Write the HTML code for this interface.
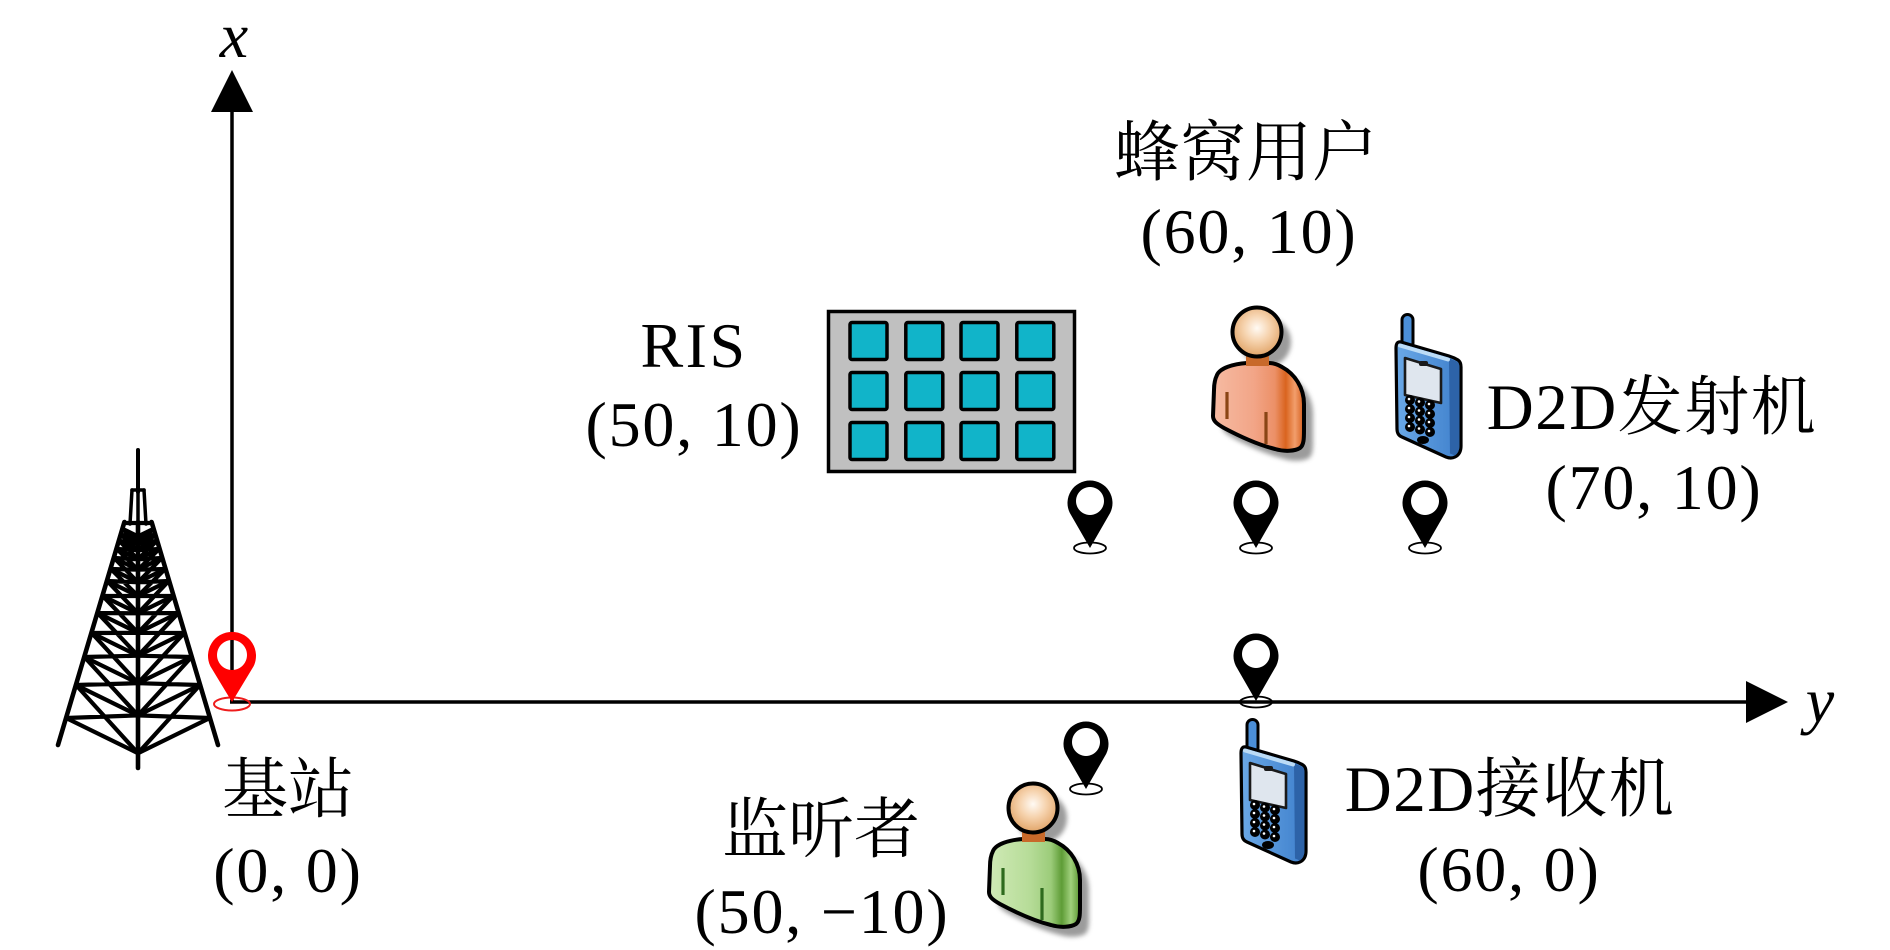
<!DOCTYPE html>
<html>
<head>
<meta charset="utf-8">
<style>
  html,body{margin:0;padding:0;background:#fff;}
  svg{display:block;}
  .num{font-family:"Liberation Serif","Noto Serif CJK SC",serif;font-size:64px;letter-spacing:1.8px;text-anchor:middle;fill:#000;}
  .cjk{font-family:"Liberation Serif","Noto Serif CJK SC",serif;font-size:66px;text-anchor:middle;fill:#000;}
  .mix{font-family:"Liberation Serif","Noto Serif CJK SC",serif;font-size:65px;letter-spacing:1.5px;text-anchor:middle;fill:#000;}
  .ital{font-family:"Liberation Serif",serif;font-style:italic;font-size:64px;text-anchor:middle;fill:#000;}
</style>
</head>
<body>
<svg width="1890" height="950" viewBox="0 0 1890 950" xmlns="http://www.w3.org/2000/svg">
  <defs>
    <filter id="blur" x="-30%" y="-30%" width="160%" height="160%"><feGaussianBlur stdDeviation="2.5"/></filter>
    <radialGradient id="head" cx="0.5" cy="0.42" r="0.6">
      <stop offset="0" stop-color="#fffaf4"/>
      <stop offset="0.45" stop-color="#f6d3ae"/>
      <stop offset="1" stop-color="#dfa062"/>
    </radialGradient>
    <linearGradient id="orangeBody" gradientUnits="userSpaceOnUse" x1="-44" y1="0" x2="47" y2="0">
      <stop offset="0" stop-color="#f6bba3"/>
      <stop offset="0.45" stop-color="#f2a587"/>
      <stop offset="0.68" stop-color="#ec9067"/>
      <stop offset="0.8" stop-color="#d9641f"/>
      <stop offset="0.9" stop-color="#f29e6c"/>
      <stop offset="1" stop-color="#d45c1a"/>
    </linearGradient>
    <linearGradient id="greenBody" gradientUnits="userSpaceOnUse" x1="-44" y1="0" x2="47" y2="0">
      <stop offset="0" stop-color="#d0eab6"/>
      <stop offset="0.45" stop-color="#b6dc98"/>
      <stop offset="0.68" stop-color="#9ccc7a"/>
      <stop offset="0.8" stop-color="#5e9c36"/>
      <stop offset="0.9" stop-color="#a0d07c"/>
      <stop offset="1" stop-color="#5a9630"/>
    </linearGradient>
    <linearGradient id="phoneFront" x1="0" y1="0" x2="1" y2="0">
      <stop offset="0" stop-color="#6aa8e6"/>
      <stop offset="1" stop-color="#3f80cc"/>
    </linearGradient>
    <path id="body" d="M -10,31 C -24,32 -37,36 -40,43 C -42,47 -43,52 -43,58 L -44,84 C -44,89 -40,92 -33,96 C -18,104 2,113 18,117 C 28,120 38,119 43,116 C 47,113 47,106 47,98 L 47,72 C 47,56 38,42 25,35 C 20,32 16,31 12,31 Z"/>
    <path id="pinB" fill-rule="evenodd" d="M -20.2,10.9 A 22.5 22.5 0 1 1 20.2,10.9 L 0,46 Z M 0,-15 A 14 14 0 1 0 0.01,-15 Z"/>
    <g id="phone">
      <rect x="10" y="1.5" width="11" height="34" rx="5.5" fill="#4b8fd8" stroke="#000" stroke-width="3"/>
      <path d="M 9,29 L 57,43 Q 62,44.5 66,47 Q 69,49 69,54 L 69,133 Q 69,141 63,144 Q 59,146 54,144 L 10,124 Q 5,122 5,116 L 4,35 Q 4,28 9,29 Z" fill="url(#phoneFront)" stroke="#000" stroke-width="3.2" stroke-linejoin="round"/>
      <path d="M 57,45.5 Q 62,47 65.5,49 Q 67.5,51 67.5,55 L 67.5,132 Q 67.5,139 63,142.5 L 58,140.5 Z" fill="#2d63a8"/>
      <path d="M 8,32.5 L 56,46.5" stroke="#bcdcf6" stroke-width="4" stroke-linecap="round"/>
      <path d="M 13,45 L 49,56 L 49,90 L 13,82 Z" fill="#dfe6ee" stroke="#1a1a1a" stroke-width="2.6" stroke-linejoin="round"/>
      <rect x="27" y="48" width="9" height="5" rx="2" fill="#1a1a1a"/>
      <g fill="#000">
        <circle cx="18" cy="87" r="5"/><circle cx="28" cy="89.5" r="5"/><circle cx="38" cy="92" r="5"/>
        <circle cx="18" cy="96" r="5"/><circle cx="28" cy="98.5" r="5"/><circle cx="38" cy="101" r="5"/>
        <circle cx="18" cy="105" r="5"/><circle cx="28" cy="107.5" r="5"/><circle cx="38" cy="110" r="5"/>
        <circle cx="18" cy="114" r="5"/><circle cx="28" cy="116.5" r="5"/><circle cx="38" cy="119" r="5"/>
        <ellipse cx="31" cy="127" rx="6" ry="4"/>
      </g>
      <g fill="#fff">
        <circle cx="17" cy="86" r="1.3"/><circle cx="27" cy="88.5" r="1.3"/><circle cx="37" cy="91" r="1.3"/>
        <circle cx="17" cy="95" r="1.3"/><circle cx="27" cy="97.5" r="1.3"/><circle cx="37" cy="100" r="1.3"/>
        <circle cx="17" cy="104" r="1.3"/><circle cx="27" cy="106.5" r="1.3"/><circle cx="37" cy="109" r="1.3"/>
        <circle cx="17" cy="113" r="1.3"/><circle cx="27" cy="115.5" r="1.3"/><circle cx="37" cy="118" r="1.3"/>
      </g>
    </g>
  </defs>

  <rect width="1890" height="950" fill="#fff"/>

  <!-- Axes -->
  <line x1="232" y1="702" x2="232" y2="108" stroke="#000" stroke-width="3.5"/>
  <polygon points="232,70 211,112 253,112" fill="#000"/>
  <line x1="230" y1="702" x2="1752" y2="702" stroke="#000" stroke-width="3.5"/>
  <polygon points="1788,702 1746,681 1746,723" fill="#000"/>
  <text class="ital" x="234" y="57">x</text>
  <text class="ital" x="1820" y="722">y</text>

  <!-- Tower -->
  <g stroke="#000" stroke-width="4.2" stroke-linecap="round" stroke-linejoin="round" fill="none">
    <line x1="138" y1="450" x2="138" y2="492" stroke-width="4"/>
    <line x1="132" y1="490" x2="130" y2="524" stroke-width="3.5"/>
    <line x1="144" y1="490" x2="146" y2="524" stroke-width="3.5"/>
    <line x1="138" y1="490" x2="138" y2="524" stroke-width="3.5"/>
    <line x1="132" y1="490" x2="144" y2="490" stroke-width="3.5"/>
    <line x1="124.4" y1="522" x2="58" y2="745" stroke-width="4.6"/>
    <line x1="151.6" y1="522" x2="218" y2="745" stroke-width="4.6"/>
    <line x1="124.4" y1="523" x2="151.6" y2="523"/>
    <line x1="138" y1="522" x2="138" y2="768" stroke-width="4.6"/>
    <polyline points="66.1,718 138,753.2 209.9,718"/>
    <polyline points="76,685 138,715.4 200,685"/>
    <polyline points="84.4,657 138,683.2 191.6,657"/>
    <polyline points="91.7,633 138,655.7 184.3,633"/>
    <polyline points="97.7,613 138,632.8 178.3,613"/>
    <polyline points="102.8,596 138,613.3 173.2,596"/>
    <polyline points="107.3,581 138,596 168.7,581"/>
    <polyline points="110.9,569 138,582.3 165.1,569"/>
    <polyline points="114.2,558 138,569.7 161.8,558"/>
    <polyline points="116.9,549 138,559.3 159.1,549"/>
    <polyline points="119.3,541 138,550.2 156.7,541"/>
    <polyline points="121.1,535 138,543.3 154.9,535"/>
    <polyline points="122.9,529 138,536.4 153.1,529"/>
    <path d="M76,685 L138,753.2 M138,715.4 L66.1,718 M200,685 L138,753.2 M138,715.4 L209.9,718
             M84.4,657 L138,715.4 M138,683.2 L76,685 M191.6,657 L138,715.4 M138,683.2 L200,685
             M91.7,633 L138,683.2 M138,655.7 L84.4,657 M184.3,633 L138,683.2 M138,655.7 L191.6,657
             M97.7,613 L138,655.7 M138,632.8 L91.7,633 M178.3,613 L138,655.7 M138,632.8 L184.3,633
             M102.8,596 L138,632.8 M138,613.3 L97.7,613 M173.2,596 L138,632.8 M138,613.3 L178.3,613
             M107.3,581 L138,613.3 M138,596 L102.8,596 M168.7,581 L138,613.3 M138,596 L173.2,596
             M110.9,569 L138,596 M138,582.3 L107.3,581 M165.1,569 L138,596 M138,582.3 L168.7,581
             M114.2,558 L138,582.3 M138,569.7 L110.9,569 M161.8,558 L138,582.3 M138,569.7 L165.1,569
             M116.9,549 L138,569.7 M138,559.3 L114.2,558 M159.1,549 L138,569.7 M138,559.3 L161.8,558
             M119.3,541 L138,559.3 M138,550.2 L116.9,549 M156.7,541 L138,559.3 M138,550.2 L159.1,549
             M121.1,535 L138,550.2 M138,543.3 L119.3,541 M154.9,535 L138,550.2 M138,543.3 L156.7,541
             M122.9,529 L138,543.3 M138,536.4 L121.1,535 M153.1,529 L138,543.3 M138,536.4 L154.9,535"/>
  </g>

  <!-- Red origin pin -->
  <ellipse cx="232" cy="704" rx="18" ry="6.5" fill="none" stroke="#ee1c1c" stroke-width="2"/>
  <path fill="#ff0000" fill-rule="evenodd" d="M 210.4,666.3 A 24 24 0 1 1 253.6,666.3 L 232,702 Z M 232,640 A 15 15 0 1 0 232.01,640 Z"/>

  <!-- RIS -->
  <rect x="828.5" y="311.5" width="246" height="160" fill="#c0c0c0" stroke="#000" stroke-width="3.5"/>
  <g fill="#11b4c9" stroke="#000" stroke-width="3.5">
    <rect x="850" y="322.5" width="37" height="37" rx="2"/>
    <rect x="905.8" y="322.5" width="37" height="37" rx="2"/>
    <rect x="961" y="322.5" width="37" height="37" rx="2"/>
    <rect x="1016.8" y="322.5" width="37" height="37" rx="2"/>
    <rect x="850" y="372.5" width="37" height="37" rx="2"/>
    <rect x="905.8" y="372.5" width="37" height="37" rx="2"/>
    <rect x="961" y="372.5" width="37" height="37" rx="2"/>
    <rect x="1016.8" y="372.5" width="37" height="37" rx="2"/>
    <rect x="850" y="422.5" width="37" height="37" rx="2"/>
    <rect x="905.8" y="422.5" width="37" height="37" rx="2"/>
    <rect x="961" y="422.5" width="37" height="37" rx="2"/>
    <rect x="1016.8" y="422.5" width="37" height="37" rx="2"/>
  </g>

  <!-- Black pins -->
  <g>
    <ellipse cx="1090" cy="548" rx="16" ry="5.5" fill="none" stroke="#000" stroke-width="1.8"/>
    <use href="#pinB" transform="translate(1090,502)" fill="#000"/>
    <ellipse cx="1256" cy="548" rx="16" ry="5.5" fill="none" stroke="#000" stroke-width="1.8"/>
    <use href="#pinB" transform="translate(1256,502)" fill="#000"/>
    <ellipse cx="1425" cy="548" rx="16" ry="5.5" fill="none" stroke="#000" stroke-width="1.8"/>
    <use href="#pinB" transform="translate(1425,502)" fill="#000"/>
    <ellipse cx="1256" cy="702" rx="16" ry="5.5" fill="none" stroke="#000" stroke-width="1.8"/>
    <use href="#pinB" transform="translate(1256,655)" fill="#000"/>
    <ellipse cx="1086" cy="789" rx="16" ry="5.5" fill="none" stroke="#000" stroke-width="1.8"/>
    <use href="#pinB" transform="translate(1086,743)" fill="#000"/>
  </g>

  <!-- Orange person (cellular user) -->
  <g transform="translate(1257,332)">
    <g filter="url(#blur)" fill="#8a8a8a" opacity="0.85" transform="translate(9,10)">
      <use href="#body"/>
      <circle r="25"/>
    </g>
    <use href="#body" fill="url(#orangeBody)" stroke="#000" stroke-width="4" stroke-linejoin="round"/>
    <line x1="-30" y1="60" x2="-30" y2="87" stroke="#8a4515" stroke-width="3.2"/>
    <line x1="9" y1="80" x2="9" y2="112" stroke="#8a4515" stroke-width="3.2"/>
    <rect x="-11" y="18" width="23" height="16" fill="#c8692a"/>
    <circle r="24.5" fill="url(#head)" stroke="#000" stroke-width="4"/>
  </g>

  <!-- Green person (eavesdropper) -->
  <g transform="translate(1033,808)">
    <g filter="url(#blur)" fill="#8a8a8a" opacity="0.85" transform="translate(9,10)">
      <use href="#body"/>
      <circle r="25"/>
    </g>
    <use href="#body" fill="url(#greenBody)" stroke="#000" stroke-width="4" stroke-linejoin="round"/>
    <line x1="-30" y1="60" x2="-30" y2="87" stroke="#2e6a1e" stroke-width="3.2"/>
    <line x1="9" y1="80" x2="9" y2="112" stroke="#2e6a1e" stroke-width="3.2"/>
    <rect x="-11" y="18" width="23" height="16" fill="#c8692a"/>
    <circle r="24.5" fill="url(#head)" stroke="#000" stroke-width="4"/>
  </g>

  <!-- Phones -->
  <use href="#phone" transform="translate(1392,313)"/>
  <use href="#phone" transform="translate(1237,718)"/>

  <!-- Labels -->
  <text class="cjk" x="1246" y="175">蜂窝用户</text>
  <text class="num" x="1249" y="253">(60, 10)</text>

  <text class="num" x="694" y="367" style="letter-spacing:2.5px">RIS</text>
  <text class="num" x="694" y="446">(50, 10)</text>

  <text class="mix" x="1652" y="429">D2D发射机</text>
  <text class="num" x="1654" y="509">(70, 10)</text>

  <text class="cjk" x="288" y="812">基站</text>
  <text class="num" x="288" y="892">(0, 0)</text>

  <text class="cjk" x="821" y="852">监听者</text>
  <text class="num" x="822" y="933">(50, −10)</text>

  <text class="mix" x="1510" y="811">D2D接收机</text>
  <text class="num" x="1509" y="891">(60, 0)</text>
</svg>
</body>
</html>
